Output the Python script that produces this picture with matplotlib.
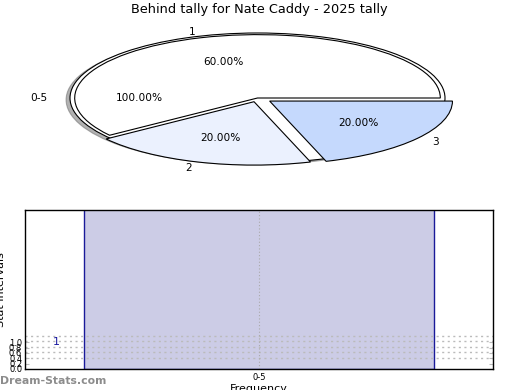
import matplotlib
matplotlib.use("Agg")
import matplotlib.pyplot as plt
import numpy as np

# ---- data ----
title = "Behind tally for Nate Caddy - 2025 tally"
outer_labels = ["0-5"]
outer_values = [100]
inner_labels = ["1", "2", "3"]
inner_values = [60, 20, 20]
inner_colors = ["#ffffff", "#ebf1fe", "#c5d9fd"]
inner_explode = [0.0, 0.06, 0.08]

bar_categories = ["0-5"]
bar_counts = [1]
bar_fill_top = 6.5          # bar drawn beyond the visible y-range
ytick_values = [0.0, 0.2, 0.4, 0.6, 0.8, 1.0]
grid_values = [0.41, 0.62, 0.82, 1.04, 1.25]

fig = plt.figure(figsize=(5.2, 3.9), dpi=100)

# ---- pie (squashed to an ellipse) ----
axp = fig.add_axes([70 / 520, (390 - 163) / 390, 375 / 520, 130 / 390])
axp.pie(outer_values, labels=outer_labels, colors=["white"],
        shadow=dict(ox=-0.015, oy=-0.02, shade=0.6),
        autopct="%.2f%%", pctdistance=0.63, labeldistance=1.12, startangle=0,
        wedgeprops=dict(edgecolor="black", linewidth=0.8),
        textprops=dict(fontsize=7.6))
axp.pie(inner_values, labels=inner_labels, colors=inner_colors,
        explode=inner_explode, radius=0.975, startangle=0,
        autopct="%.2f%%", pctdistance=0.6, labeldistance=1.1,
        wedgeprops=dict(edgecolor="black", linewidth=0.8),
        textprops=dict(fontsize=7.6))
axp.set_aspect("auto")
axp.set_xlim(-1, 1)
axp.set_ylim(-1, 1)
axp.axis("off")

fig.text(259 / 520, 1 - 10 / 390, title, ha="center", va="center", fontsize=9.3)

# ---- bar chart ----
ax = fig.add_axes([25 / 520, 21 / 390, 468 / 520, 159 / 390])
x = np.arange(len(bar_categories))
ax.bar(x, [bar_fill_top] * len(x), width=1.0, color="#ccccE6",
       edgecolor="#1a1a99", linewidth=1.0, zorder=1)
for xi, c in zip(x, bar_counts):
    ax.text(xi - 0.58, c, str(c), color="#1a1aa0", fontsize=8,
            ha="center", va="center", zorder=3)
for g in grid_values:
    ax.axhline(g, color="#bbbbbb", linestyle=(0, (1.5, 2.5)), linewidth=1.0, zorder=2)
ax.axvline(0, color="#aaaaaa", linestyle=(0, (1, 2)), linewidth=0.8, zorder=2)
ax.set_xlim(-0.6686, 0.6686)
ax.set_ylim(0, 5.95)
ax.set_xticks(x)
ax.set_xticklabels(bar_categories, fontsize=6)
ax.set_yticks(ytick_values)
ax.set_yticklabels([f"{v:.1f}" for v in ytick_values], fontsize=6)
ax.tick_params(axis="y", which="both", direction="in", length=3, color="#bbbbbb",
               right=True, pad=2)
ax.tick_params(axis="x", length=0, pad=3)
for s in ax.spines.values():
    s.set_linewidth(1.0)

fig.text(6 / 520, 0.5 * (21 + 180) / 390, "Stat Intervals", rotation=90,
         ha="right", va="center", fontsize=8)
fig.text(259 / 520, 6 / 390, "Frequency", ha="center", va="top", fontsize=8)
fig.text(0, 1 - 381 / 390, "Dream-Stats.com", ha="left", va="center",
         fontsize=7.8, color="#8c8c8c", fontweight="bold")

fig.savefig("out.png", dpi=100)
